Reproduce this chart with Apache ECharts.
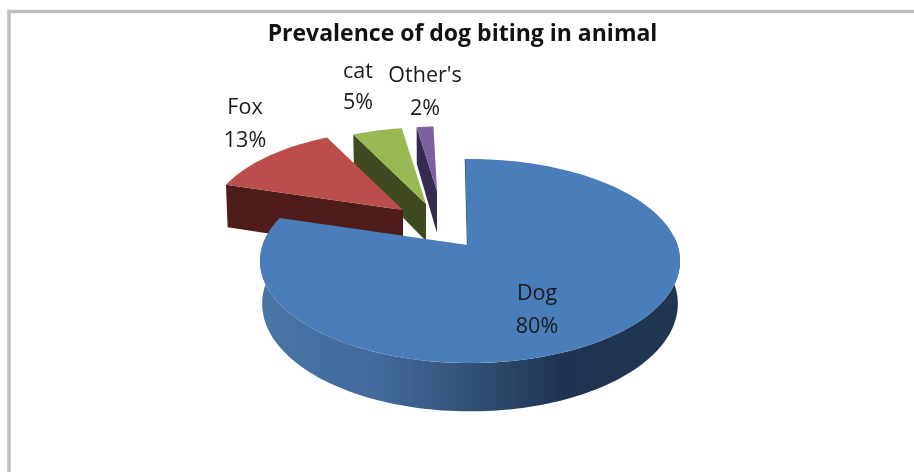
<!DOCTYPE html>
<html><head><meta charset="utf-8">
<style>html,body{margin:0;padding:0;background:#fff}#c{width:914px;height:472px}#c canvas{filter:blur(0.55px)}</style>
<script src="https://cdn.jsdelivr.net/npm/echarts@6/dist/echarts.min.js"></script>
</head><body><div id="c"></div>
<script>
const categories = ['Dog', 'Fox', 'cat', "Other's"];
const seriesValues = [80, 13, 5, 2];
const percentLabels = ['80%', '13%', '5%', '2%'];
const topColors = ['#4a7ebb', '#bb4e4b', '#98b954', '#7d60a0'];
const wallColors = ['#2c4a70', '#4e1d1b', '#3f4a20', '#352a50'];
// layout of the exploded, tilted pie (apex x, apex y, scale, wall height)
const explodeAX = [470, 403, 426, 437];
const explodeAY = [245, 210, 204, 191];
const explodeScale = [1, 0.93, 0.89, 0.75];
const wallHeight = [42, 44, 37, 42];
const pivotDX = [-2.5, 0, 0, 0];
const labelX = [537, 245, 358, 425];
const labelY = [294, 108, 72, 76];
const labelGap = [33, 33, 31, 33];
const A = 207.4, B = 99.5, K = 0.157, FLOOR = 0.99, START = -1.5;

function project(i, deg, r, h) {
  const t = deg * Math.PI / 180, f = h ? FLOOR : 1;
  const u = r * Math.sin(t) * f, v = -r * Math.cos(t) * f, d = 1 - K * v, s = explodeScale[i];
  return [explodeAX[i] + s * A * u / d, explodeAY[i] + s * B * v / d + h / d];
}
function arc(i, a0, a1, h) {
  const n = Math.max(2, Math.ceil(Math.abs(a1 - a0) / 1.5)), p = [];
  for (let j = 0; j <= n; j++) p.push(project(i, a0 + (a1 - a0) * j / n, 1, h));
  return p;
}
const total = seriesValues.reduce((a, b) => a + b, 0);
const starts = []; let acc = START;
seriesValues.forEach(v => { starts.push(acc); acc += v / total * 360; });

const wallGradient = new echarts.graphic.LinearGradient(260, 0, 680, 0, [
  { offset: 0, color: '#4a76a8' }, { offset: 0.3, color: '#41689a' },
  { offset: 0.55, color: '#2e4a6e' }, { offset: 0.72, color: '#1f3350' }, { offset: 1, color: '#203650' }
], true);

function renderItem(params, api) {
  const i = api.value(0), a0 = starts[i], a1 = a0 + api.value(1) / total * 360;
  const children = [];
  const base = project(i, 0, 0, 0);
  const apex = [base[0] + pivotDX[i], base[1]];
  const apexF = project(i, 0, 0, wallHeight[i]);
  if (i === 0) {
    const lo = Math.max(a0, 85), hi = Math.min(a1, 276);
    const top = arc(i, lo, hi, 0), bot = arc(i, lo, hi, wallHeight[i]);
    children.push({ type: 'polygon', shape: { points: top.concat(bot.reverse()) }, style: { fill: wallGradient } });
    const edge = [project(i, a0, 1, 0), apex];
    children.push({ type: 'polyline', shape: { points: edge }, style: { stroke: wallColors[0], lineWidth: 1.2, fill: null } });
  } else {
    const e = project(i, a0, 1, 0), eF = project(i, a0, 1, wallHeight[i]);
    children.push({ type: 'polygon', shape: { points: [apex, e, eF, apexF] }, style: { fill: wallColors[i] } });
  }
  children.push({ type: 'polygon', shape: { points: [apex].concat(arc(i, a0, a1, 0)) }, style: { fill: topColors[i] } });
  const tStyle = { fill: '#1a1a1a', font: '21.5px "Open Sans"', align: 'center', verticalAlign: 'middle' };
  children.push({ type: 'text', z2: 10, style: Object.assign({ text: categories[i], x: labelX[i], y: labelY[i] }, tStyle) });
  children.push({ type: 'text', z2: 10, style: Object.assign({ text: percentLabels[i], x: labelX[i], y: labelY[i] + labelGap[i] }, tStyle) });
  return { type: 'group', children };
}

const chart = echarts.init(document.getElementById('c'), null, { renderer: 'canvas' });
chart.setOption({
  animation: false,
  backgroundColor: '#fff',
  title: { text: 'Prevalence of dog biting in animal', left: 457.5, top: 18, textAlign: 'center',
    textStyle: { fontFamily: 'Open Sans', fontWeight: 'bold', fontSize: 23, color: '#111' } },
  graphic: [
    { type: 'polyline', shape: { points: [[9, 472], [9, 11.5], [914, 11.5]] },
      style: { stroke: '#bdbdbd', lineWidth: 3.5, fill: null } }
  ],
  series: [{
    type: 'custom', coordinateSystem: 'none', renderItem,
    encode: { value: [1] },
    // back-to-front drawing order
    data: [3, 2, 1, 0].map(i => [i, seriesValues[i]])
  }]
});
</script></body></html>
